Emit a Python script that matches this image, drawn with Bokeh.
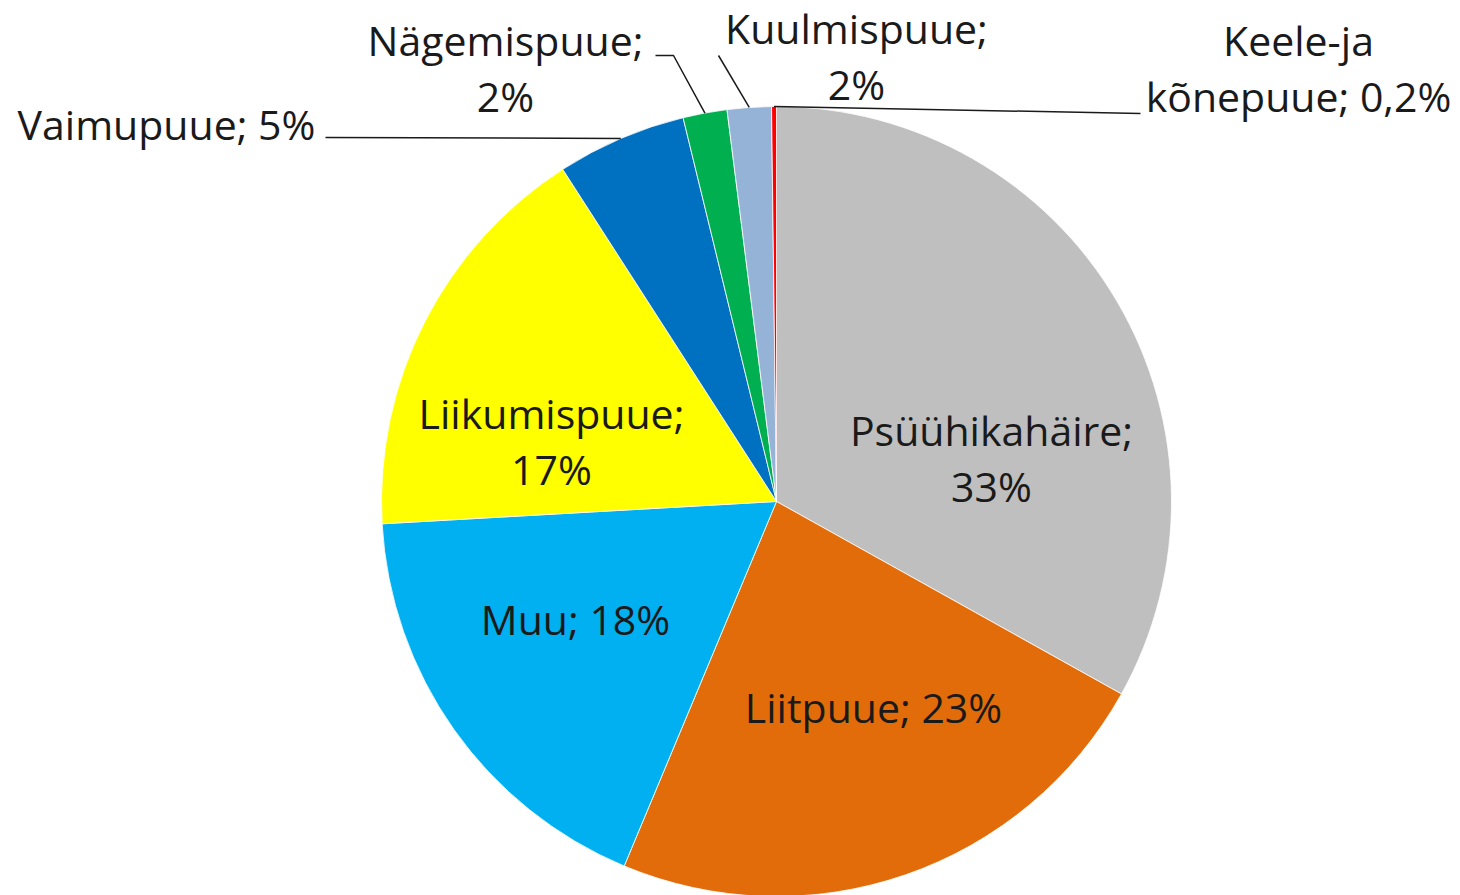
import math
from bokeh.plotting import figure
from bokeh.models import Range1d, ColumnDataSource
from bokeh.core.properties import value
from bokeh.embed import file_html
from bokeh.resources import INLINE

# ---- data ----
categories = ["Psüühikahäire", "Liitpuue", "Muu", "Liikumispuue",
              "Vaimupuue", "Nägemispuue", "Kuulmispuue", "Keele-ja kõnepuue"]
shares = [33.1, 23.2, 17.8, 16.8, 5.3, 1.8, 1.8, 0.2]
labels = ["Psüühikahäire;\n33%", "Liitpuue; 23%", "Muu; 18%", "Liikumispuue;\n17%",
          "Vaimupuue; 5%", "Nägemispuue;\n2%", "Kuulmispuue;\n2%", "Keele-ja\nkõnepuue; 0,2%"]
colors = ["#BFBFBF", "#E36C0A", "#00B0F0", "#FFFF00",
          "#0070C0", "#00B050", "#95B3D7", "#FF0000"]

# ---- layout (screen pixels) ----
W, H = 1460, 895
CX, CY, R = 776, 501, 395
label_pos = [(991, 457), (873, 706), (575, 618), (551, 440),
             (166, 123), (505, 67), (856, 55), (1298, 67)]
# leader-line start points (screen px) for outside labels; None = inside label
leader_pts = [None, None, None, None,
              [(325, 137)], [(655, 55), (673, 55)], [(718, 55)], [(1140, 113)]]

def to_data(sx, sy):
    return sx - CX, CY - sy

total = sum(shares)
starts, ends, mids = [], [], []
cum = 0.0
for s in shares:
    a0 = math.pi / 2 - 2 * math.pi * cum / total
    cum += s
    a1 = math.pi / 2 - 2 * math.pi * cum / total
    starts.append(a0)
    ends.append(a1)
    mids.append((a0 + a1) / 2)

src = ColumnDataSource(dict(cat=categories, start=starts, end=ends, color=colors))

p = figure(width=W, height=H, output_backend="svg", toolbar_location=None,
           x_range=Range1d(-CX, W - CX), y_range=Range1d(CY - H, CY),
           min_border=0, outline_line_color=None, background_fill_color="white")
p.axis.visible = False
p.grid.visible = False

p.wedge(x=0, y=0, radius=R, start_angle="start", end_angle="end", direction="clock",
        fill_color="color", line_color="white", line_width=0.8, source=src)

# leader lines
for i, pts in enumerate(leader_pts):
    if pts is None:
        continue
    xs = [to_data(*q)[0] for q in pts]
    ys = [to_data(*q)[1] for q in pts]
    xs.append(R * math.cos(mids[i]))
    ys.append(R * math.sin(mids[i]))
    p.line(xs, ys, line_color="#1a1a1a", line_width=1.5)

lx = [to_data(*q)[0] for q in label_pos]
ly = [to_data(*q)[1] for q in label_pos]
p.text(x=lx, y=ly, text=labels, text_align="center", text_baseline="middle",
       text_font=value("Open Sans"), text_font_size="41px", text_color="#1a1a1a",
       text_line_height=1.0)

open("out.html", "w").write(file_html(p, INLINE))
